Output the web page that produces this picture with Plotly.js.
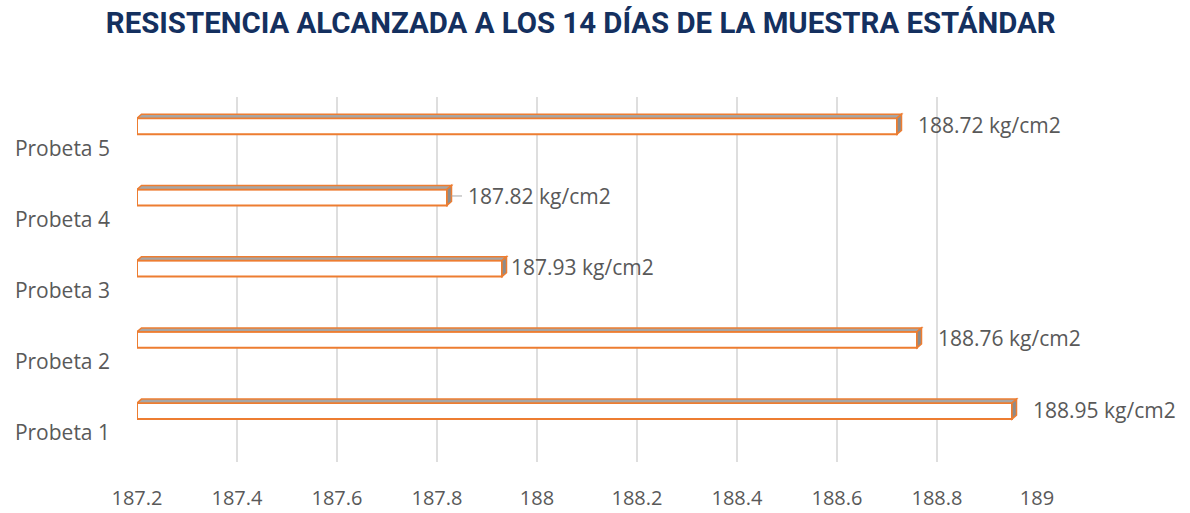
<!DOCTYPE html>
<html>
<head>
<meta charset="utf-8">
<script src="https://cdn.plot.ly/plotly-3.0.1.min.js"></script>
<style>html,body{margin:0;padding:0;background:#fff;}#chart{width:1190px;height:513px;}</style>
</head>
<body>
<div id="chart"></div>
<script>
const categories = ['Probeta 1', 'Probeta 2', 'Probeta 3', 'Probeta 4', 'Probeta 5'];
const values = [188.95, 188.76, 187.93, 187.82, 188.72];
const unit = ' kg/cm2';
const xTicks = [187.2, 187.4, 187.6, 187.8, 188, 188.2, 188.4, 188.6, 188.8, 189];
const xTickText = ['187.2', '187.4', '187.6', '187.8', '188', '188.2', '188.4', '188.6', '188.8', '189'];
const baseValue = 187.2;

const pos = categories.map((c, i) => i + 1);
const barW = 0.225;
const dx = 0.009, dy = 0.055;
const orange = '#ED7D31';
const labelShift = [14, 14, 2, 14, 14];

const shapes = [];
values.forEach((v, i) => {
  const y = pos[i];
  const top = y + barW / 2, bot = y - barW / 2;
  shapes.push({type: 'path', xref: 'x', yref: 'y',
    path: `M ${baseValue},${top} L ${v},${top} L ${v + dx},${top + dy} L ${baseValue + dx},${top + dy} Z`,
    fillcolor: '#A6A6A6', line: {color: orange, width: 1.5}, layer: 'above'});
  shapes.push({type: 'path', xref: 'x', yref: 'y',
    path: `M ${v},${bot} L ${v},${top} L ${v + dx},${top + dy} L ${v + dx},${bot + dy} Z`,
    fillcolor: '#8C8C8C', line: {color: orange, width: 1.5}, layer: 'above'});
});
// small leader line for Probeta 4 label
shapes.push({type: 'line', xref: 'x', yref: 'y', x0: values[3] + dx, x1: values[3] + 0.03,
  y0: pos[3] + 0.02, y1: pos[3] + 0.02, line: {color: '#A6A6A6', width: 1}});

const annotations = values.map((v, i) => ({
  x: v + dx, y: pos[i] + 0.02, xref: 'x', yref: 'y',
  text: v.toFixed(2) + unit, showarrow: false, xanchor: 'left', yanchor: 'middle',
  xshift: labelShift[i],
  font: {family: 'Open Sans', size: 21, color: '#595959'}
}));

const trace = {
  type: 'bar', orientation: 'h',
  y: pos, x: values.map(v => v - baseValue), base: baseValue,
  width: barW,
  marker: {color: '#FFFFFF', line: {color: orange, width: 2}},
  hoverinfo: 'none'
};

const layout = {
  width: 1190, height: 513,
  margin: {l: 137, r: 153, t: 97, b: 51},
  paper_bgcolor: '#FFFFFF', plot_bgcolor: '#FFFFFF',
  showlegend: false,
  title: {text: '<b>RESISTENCIA ALCANZADA A LOS 14 DÍAS DE LA MUESTRA ESTÁNDAR</b>',
    x: 0.488, xanchor: 'center', y: 0.955, yanchor: 'middle',
    font: {family: 'Roboto', size: 29.4, color: '#14305F'}},
  xaxis: {range: [187.2, 189], tickvals: xTicks, ticktext: xTickText,
    showgrid: true, gridcolor: '#DEDEDE', gridwidth: 2, zeroline: false,
    showline: false, ticks: '', ticklabelstandoff: 22,
    tickfont: {family: 'Open Sans', size: 20, color: '#595959'}},
  yaxis: {range: [0.284, 5.41], tickvals: pos.map(p => p - 0.31), ticktext: categories,
    showgrid: false, zeroline: false, showline: false, ticks: '', ticklabelstandoff: 26,
    tickfont: {family: 'Open Sans', size: 21, color: '#595959'}},
  shapes: shapes,
  annotations: annotations
};

Plotly.newPlot('chart', [trace], layout, {displayModeBar: false, staticPlot: true});
</script>
</body>
</html>
